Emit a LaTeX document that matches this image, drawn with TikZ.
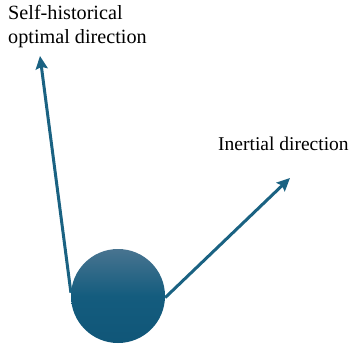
\documentclass[tikz,border=0pt]{standalone}
\usepackage{fontspec}
\setmainfont{Liberation Serif}
\usetikzlibrary{arrows.meta}
\definecolor{ArrowClr}{RGB}{26,98,130}
\definecolor{BallTopClr}{RGB}{72,116,144}
\definecolor{BallClr}{RGB}{20,92,126}
\definecolor{BallBotClr}{RGB}{16,86,120}

\begin{document}
\begin{tikzpicture}[x=1pt,y=-1pt,
  dirarrow/.style={draw=ArrowClr,line width=3pt,-{Stealth[length=13pt,width=12pt,inset=2pt]}},
  label/.style={inner sep=0pt,align=left}]
\useasboundingbox (0,0) rectangle (351,349);

% the ball
\shade[top color=BallTopClr,bottom color=BallBotClr,middle color=BallClr,
  shading angle=0] (118,296) circle (47);
\node[circle,minimum size=94pt,inner sep=0pt] (ball) at (118,296) {};

\coordinate (histtip) at (40,56);
\coordinate (inertip) at (290,178);

\draw[dirarrow] (ball.176) -- (histtip);
\draw[dirarrow] (ball.-2) -- (inertip);

\node[label,anchor=base west,font=\fontsize{20.2}{23.5}\selectfont] (hist) at (8,43) {Self-historical\\optimal direction};
\node[label,anchor=base west,font=\fontsize{19.5}{23}\selectfont] (iner) at (218,150) {Inertial direction};

\end{tikzpicture}
\end{document}
